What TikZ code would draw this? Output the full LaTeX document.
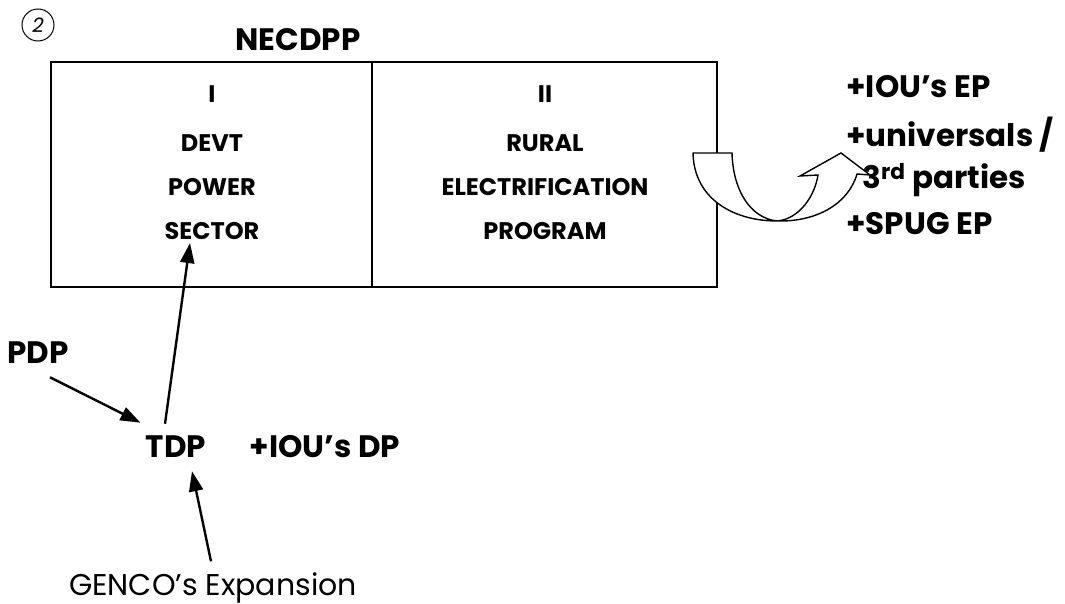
\documentclass[tikz,border=0pt]{standalone}
\usepackage{fontspec}
\setmainfont{Poppins}
\usetikzlibrary{calc, arrows.meta}

\begin{document}
\begin{tikzpicture}[x=1pt, y=-1pt, thick,
  cell/.style={draw, line width=1.8pt, minimum height=225pt, inner sep=0pt},
  boxtext/.style={font=\fontsize{24}{27}\selectfont\bfseries, inner sep=1pt},
  bigtext/.style={font=\fontsize{31}{34}\selectfont\bfseries, inner sep=1pt},
  arrowone/.style={line width=2.4pt, -{Triangle[length=20pt, width=14pt]}},
]
  \useasboundingbox (0,0) rectangle (1065,604);
  % 两个方框
  \node[cell, minimum width=321pt] (devcell) at (211.5,174.5) {};
  \node[cell, minimum width=345pt] (ruralcell) at (544.5,174.5) {};
  \node[bigtext] (necdpp) at (298,40) {NECDPP};
  \node[circle, draw, line width=1pt, minimum size=32pt, inner sep=0pt,
        font=\fontsize{20}{20}\selectfont\itshape] (num) at (38,25) {2};

  \node[boxtext] (devI)    at (212,94)  {I};
  \node[boxtext] (devt)    at (212,143) {DEVT};
  \node[boxtext] (power)   at (212,187) {POWER};
  \node[boxtext] (sector)  at (212,231) {SECTOR};
  \node[boxtext] (ruralII) at (545,94)  {II};
  \node[boxtext] (rural)   at (545,143) {RURAL};
  \node[boxtext] (electr)  at (545,187) {ELECTRIFICATION};
  \node[boxtext] (program) at (545,231) {PROGRAM};

  % 右边
  \node[bigtext, anchor=west] (iouep)  at (845,87)  {+IOU's EP};
  \node[bigtext, anchor=west] (univ)   at (845,135) {+universals /};
  \node[bigtext, anchor=west] (third)  at (861,180) {3\textsuperscript{rd} parties};
  \node[bigtext, anchor=west] (spugep) at (845,224) {+SPUG EP};

  % 弯箭头
  \coordinate (A) at (693,153);
  \coordinate (B) at (732,153);
  \coordinate (C) at (777,221);
  \coordinate (D) at (818,175);
  \coordinate (E) at (800,176);
  \coordinate (F) at (841,153);
  \coordinate (G) at (870,175);
  \coordinate (H) at (857,174);
  \draw[line width=1.4pt, fill=white, line join=miter]
    (A) -- (B) .. controls (733,190) and (750,218) .. (C)
    .. controls (800,219) and (815,195) .. (D) -- (E) -- (F) -- (G) -- (H)
    .. controls (848,205) and (815,222) .. (C)
    .. controls (735,221) and (694,200) .. (A) -- cycle;

  % 下面
  \node[bigtext] (pdp)   at (38,353)  {PDP};
  \node[bigtext] (tdp)   at (176,447) {TDP};
  \node[bigtext] (ioudp) at (325,447) {+IOU's DP};
  \node[font=\fontsize{30}{33}\selectfont, inner sep=1pt] (genco) at (213,588) {GENCO's Expansion};

  \draw[arrowone] ([shift={(12,12)}]pdp.south) -- ([shift={(-4,-12)}]tdp.north west);
  \draw[arrowone] ([shift={(-11,-11)}]tdp.north) -- ([shift={(-22,2)}]sector.south);
  \draw[arrowone] ([shift={(-2,-10)}]genco.north) -- ([shift={(16,12)}]tdp.south);
\end{tikzpicture}
\end{document}
